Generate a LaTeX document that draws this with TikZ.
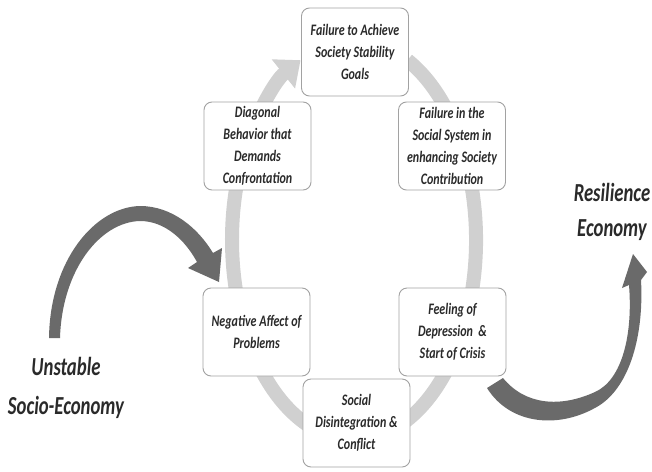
\documentclass[tikz,border=0pt]{standalone}
\usepackage{fontspec}
\setmainfont{Carlito}
\newfontfamily\boxfam[FakeStretch=0.75]{Carlito}
\newfontfamily\labfam[FakeStretch=0.72]{Carlito}
\usetikzlibrary{arrows.meta}
\definecolor{ringgray}{HTML}{D0D0D0}
\definecolor{arrowgray}{HTML}{6A6A6A}
\definecolor{boxgray}{HTML}{A2A2A2}
\definecolor{txtgray}{HTML}{2A2A2A}
\tikzset{
  stagebox/.style={draw=boxgray, fill=white, rounded corners=8pt, line width=0.9pt,
    minimum width=107pt, minimum height=88pt, align=center, inner sep=2pt,
    text=txtgray, font=\boxfam\bfseries\itshape\fontsize{16}{22}\selectfont},
  outerlabel/.style={align=center, text=txtgray, inner sep=0pt,
    font=\labfam\bfseries\itshape\fontsize{26}{37}\selectfont},
  bigarrow/.style={fill=arrowgray},
  ring/.style={draw=ringgray, line width=14pt, -{Triangle[length=22pt,width=36pt]}}
}
\begin{document}
\begin{tikzpicture}[x=1pt,y=-1pt]
\useasboundingbox (0,0) rectangle (652,471);
\fill[white] (0,0) rectangle (652,471);
% cycle ring
\draw[ring] (407.5,60.2) arc[start angle=64, end angle=-244, x radius=122pt, y radius=200pt];
% stage boxes
\node[stagebox] (goals) at (355,52) {Failure to Achieve\\Society Stability\\Goals};
\node[stagebox] (diag) at (257.5,146) {Diagonal\\Behavior that\\Demands\\Confrontation};
\node[stagebox] (social) at (452,146) {Failure in the\\Social System in\\enhancing Society\\Contribution};
\node[stagebox] (neg) at (256.5,332) {Negative Affect of\\Problems};
\node[stagebox] (feel) at (452.5,332) {Feeling of\\Depression \ \&\\Start of Crisis};
\node[stagebox] (disint) at (356.5,423) {Social\\Disintegration \&\\Conflict};
% outer labels
\node[outerlabel] (unst) at (66,388) {Unstable\\[2pt]Socio-Economy};
\node[outerlabel] (resil) at (612,212) {Resilience\\[-2pt]Economy};
% entering arrow
\fill[bigarrow] (49,338) .. controls (50,260) and (95,207) .. (140,206)
  .. controls (172,206) and (198,228) .. (213,253) -- (222,248) -- (219,282)
  -- (188,268) -- (197,262) .. controls (185,240) and (165,221) .. (140,221)
  .. controls (100,222) and (62,270) .. (60,338) -- cycle;
% leaving arrow
\fill[bigarrow] (487,388) .. controls (510,425) and (560,430) .. (600,405)
  .. controls (630,385) and (644,335) .. (641,280) -- (647,272) -- (633,254)
  -- (622,288) -- (629,285) .. controls (633,335) and (622,380) .. (595,392)
  .. controls (560,408) and (525,405) .. (503,378) -- cycle;
\end{tikzpicture}
\end{document}
